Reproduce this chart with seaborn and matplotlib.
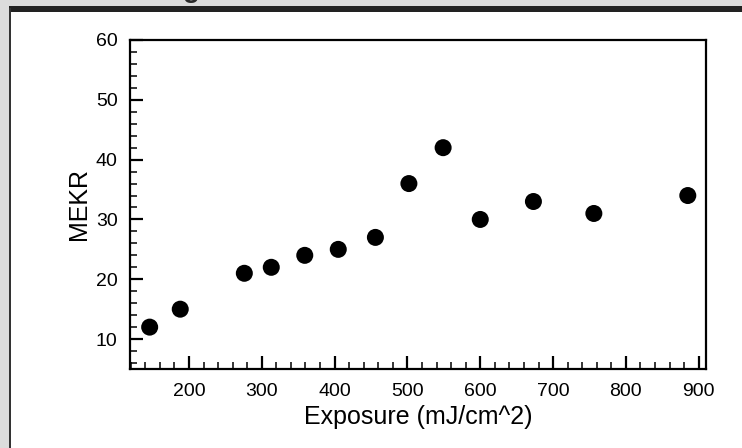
#!/usr/bin/env python

import matplotlib

matplotlib.use("Agg")
import matplotlib.pyplot as plt
import pandas as pd
import seaborn as sns
from matplotlib.patches import Rectangle
from matplotlib.ticker import MultipleLocator

exposure = [146, 188, 276, 313, 359, 405, 456, 502, 549, 600, 673, 756, 885]
mekr = [12, 15, 21, 22, 24, 25, 27, 36, 42, 30, 33, 31, 34]


def main():
    sns.set_style("ticks")
    plt.rcParams["font.family"] = ["Liberation Sans", "DejaVu Sans"]
    plt.rcParams["text.color"] = "black"
    plt.rcParams["axes.labelcolor"] = "black"

    W, H = 742, 448
    fig = plt.figure(figsize=(W / 100, H / 100), dpi=100, facecolor="#dcdcdc")

    # screenshot frame: white panel, dark top bar, thin dark left edge
    fig.patches.append(Rectangle((11 / W, 0), 1, (H - 12) / H,
                                 transform=fig.transFigure, facecolor="white",
                                 edgecolor="none", zorder=-3))
    fig.patches.append(Rectangle((9 / W, (H - 12.5) / H), 1, 6 / H,
                                 transform=fig.transFigure, facecolor="#222222",
                                 edgecolor="none", zorder=-2))
    fig.patches.append(Rectangle((9 / W, 0), 2 / W, (H - 8) / H,
                                 transform=fig.transFigure, facecolor="#333333",
                                 edgecolor="none", zorder=-2))
    # cut-off heading above the panel, only the tail of the "g" shows
    fig.text(183 / W, 1 + 2.5 / H, "g", fontsize=20, fontweight="bold",
             color="#2a2a2a", va="baseline", ha="left")

    ax = fig.add_axes([130 / W, 79 / H, 576 / W, 329 / H])
    df = pd.DataFrame({"Exposure": exposure, "MEKR": mekr})
    sns.scatterplot(data=df, x="Exposure", y="MEKR", ax=ax, s=150,
                    color="black", edgecolor="none", linewidth=0)

    ax.set_xlim(119, 910)
    ax.set_ylim(5, 60)
    ax.xaxis.set_major_locator(MultipleLocator(100))
    ax.xaxis.set_minor_locator(MultipleLocator(20))
    ax.yaxis.set_major_locator(MultipleLocator(10))
    ax.yaxis.set_minor_locator(MultipleLocator(2))

    for s in ax.spines.values():
        s.set_linewidth(1.6)
        s.set_color("black")
        s.set_visible(True)
    ax.tick_params(which="major", direction="in", length=9.5, width=1.6,
                   labelsize=14, top=False, right=False, colors="black")
    ax.tick_params(which="minor", direction="in", length=5, width=1.1,
                   top=False, right=False, colors="black")
    ax.tick_params(axis="y", which="major", pad=9)
    ax.tick_params(axis="x", which="major", pad=10)

    ax.set_xlabel("Exposure (mJ/cm^2)", fontsize=18, labelpad=4)
    ax.set_ylabel("MEKR", fontsize=18, labelpad=3)

    plt.savefig("out.png", dpi=100, facecolor=fig.get_facecolor())


if __name__ == "__main__":
    main()
